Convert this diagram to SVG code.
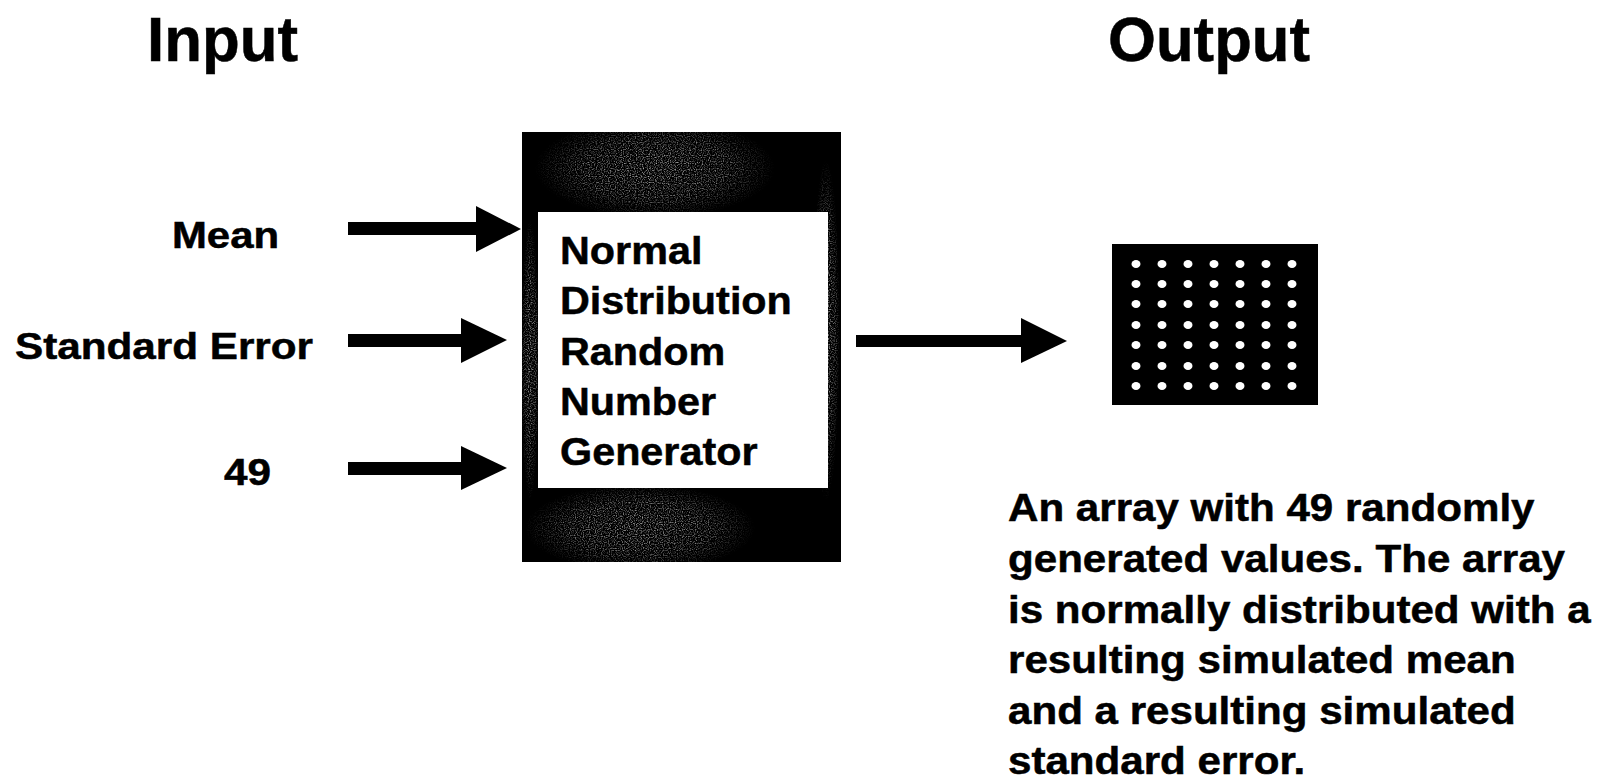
<svg xmlns="http://www.w3.org/2000/svg" width="1600" height="777" viewBox="0 0 1600 777">
<style>
  text { font-family: "Liberation Sans", Arial, Helvetica, sans-serif; font-weight: bold; fill: #000; stroke: #000; stroke-width: 0.5px; }
  .title { font-size: 63px; }
  .lbl { font-size: 36px; }
  .box { font-size: 39px; }
  .desc { font-size: 39px; }
  .arrow { fill: #000; }
  .dot { fill: #fff; }
</style>
<defs>
  <filter id="noise" x="0" y="0" width="100%" height="100%">
    <feTurbulence type="fractalNoise" baseFrequency="0.85" numOctaves="1" seed="7"/>
    <feColorMatrix type="matrix" values="0 0 0 0 0.6  0 0 0 0 0.6  0 0 0 0 0.6  0 0 0 2.6 -1.2"/>
  </filter>
  <radialGradient id="fade">
    <stop offset="0" stop-color="#fff" stop-opacity="1"/>
    <stop offset="0.6" stop-color="#fff" stop-opacity="0.7"/>
    <stop offset="1" stop-color="#fff" stop-opacity="0"/>
  </radialGradient>
  <mask id="texmask">
    <ellipse cx="655" cy="168" rx="120" ry="50" fill="url(#fade)"/>
    <ellipse cx="640" cy="528" rx="115" ry="44" fill="url(#fade)"/>
    <ellipse cx="826" cy="330" rx="14" ry="170" fill="url(#fade)"/>
    <ellipse cx="530" cy="360" rx="9" ry="140" fill="url(#fade)"/>
  </mask>
  <ellipse id="d" class="dot" rx="4.5" ry="4"/>
</defs>

<g id="title-input"><text class="title" x="147" y="61" textLength="151" lengthAdjust="spacingAndGlyphs">Input</text></g>
<g id="title-output"><text class="title" x="1108" y="61" textLength="202" lengthAdjust="spacingAndGlyphs">Output</text></g>

<g id="input-mean"><text class="lbl" x="172" y="248" textLength="107" lengthAdjust="spacingAndGlyphs">Mean</text></g>
<g id="input-stderr"><text class="lbl" x="15" y="359" textLength="298" lengthAdjust="spacingAndGlyphs">Standard Error</text></g>
<g id="input-49"><text class="lbl" x="224" y="485" textLength="47" lengthAdjust="spacingAndGlyphs">49</text></g>

<g id="generator">
  <rect x="522" y="132" width="319" height="430" fill="#000"/>
  <rect x="522" y="132" width="319" height="430" filter="url(#noise)" mask="url(#texmask)"/>
  <rect x="538" y="212" width="290" height="276" fill="#fff"/>
  <g transform="translate(560,0) scale(1.06,1)">
    <text class="box" x="0" y="264">Normal</text>
    <text class="box" x="0" y="314">Distribution</text>
    <text class="box" x="0" y="365">Random</text>
    <text class="box" x="0" y="415">Number</text>
    <text class="box" x="0" y="465">Generator</text>
  </g>
</g>

<g id="array">
  <rect x="1112" y="244" width="206" height="161" fill="#000"/>
  <g>
    <use href="#d" x="1136" y="264"/><use href="#d" x="1162" y="264"/><use href="#d" x="1188" y="264"/><use href="#d" x="1214" y="264"/><use href="#d" x="1240" y="264"/><use href="#d" x="1266" y="264"/><use href="#d" x="1292" y="264"/>
    <use href="#d" x="1136" y="284"/><use href="#d" x="1162" y="284"/><use href="#d" x="1188" y="284"/><use href="#d" x="1214" y="284"/><use href="#d" x="1240" y="284"/><use href="#d" x="1266" y="284"/><use href="#d" x="1292" y="284"/>
    <use href="#d" x="1136" y="304"/><use href="#d" x="1162" y="304"/><use href="#d" x="1188" y="304"/><use href="#d" x="1214" y="304"/><use href="#d" x="1240" y="304"/><use href="#d" x="1266" y="304"/><use href="#d" x="1292" y="304"/>
    <use href="#d" x="1136" y="325"/><use href="#d" x="1162" y="325"/><use href="#d" x="1188" y="325"/><use href="#d" x="1214" y="325"/><use href="#d" x="1240" y="325"/><use href="#d" x="1266" y="325"/><use href="#d" x="1292" y="325"/>
    <use href="#d" x="1136" y="345"/><use href="#d" x="1162" y="345"/><use href="#d" x="1188" y="345"/><use href="#d" x="1214" y="345"/><use href="#d" x="1240" y="345"/><use href="#d" x="1266" y="345"/><use href="#d" x="1292" y="345"/>
    <use href="#d" x="1136" y="366"/><use href="#d" x="1162" y="366"/><use href="#d" x="1188" y="366"/><use href="#d" x="1214" y="366"/><use href="#d" x="1240" y="366"/><use href="#d" x="1266" y="366"/><use href="#d" x="1292" y="366"/>
    <use href="#d" x="1136" y="386"/><use href="#d" x="1162" y="386"/><use href="#d" x="1188" y="386"/><use href="#d" x="1214" y="386"/><use href="#d" x="1240" y="386"/><use href="#d" x="1266" y="386"/><use href="#d" x="1292" y="386"/>
  </g>
</g>

<g id="description" transform="translate(1008,0) scale(1.08,1)">
  <text class="desc" x="0" y="521">An array with 49 randomly</text>
  <text class="desc" x="0" y="572">generated values. The array</text>
  <text class="desc" x="0" y="623">is normally distributed with a</text>
  <text class="desc" x="0" y="673">resulting simulated mean</text>
  <text class="desc" x="0" y="724">and a resulting simulated</text>
  <text class="desc" x="0" y="774">standard error.</text>
</g>

<g id="connectors">
  <rect class="arrow" x="348" y="222" width="130" height="13"/>
  <polygon class="arrow" points="476,206 521,229 476,252"/>
  <rect class="arrow" x="348" y="334" width="115" height="13"/>
  <polygon class="arrow" points="461,318 507,340 461,363"/>
  <rect class="arrow" x="348" y="462" width="115" height="13"/>
  <polygon class="arrow" points="461,446 507,468 461,490"/>
  <rect class="arrow" x="856" y="335" width="167" height="12"/>
  <polygon class="arrow" points="1021,318 1067,341 1021,363"/>
</g>
</svg>
